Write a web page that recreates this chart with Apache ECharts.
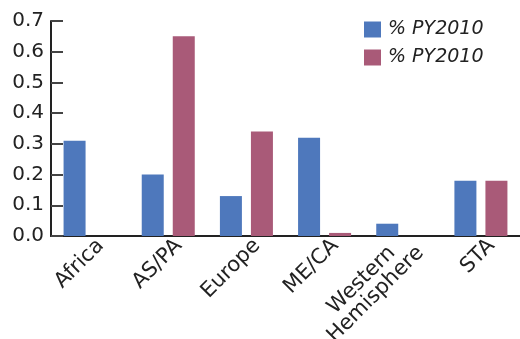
<!DOCTYPE html>
<html><head><meta charset="utf-8">
<script src="https://cdn.jsdelivr.net/npm/echarts@6/dist/echarts.min.js"></script>
<style>html,body{margin:0;padding:0;background:#fff}#c{width:520px;height:339px}</style>
</head><body><div id="c"></div>
<script>
const categories = ["Africa", "AS/PA", "Europe", "ME/CA", "Western\nHemisphere", "STA"];
const seriesA = [0.31, 0.20, 0.13, 0.32, 0.04, 0.18];
const seriesB = [0.00, 0.65, 0.34, 0.01, 0.00, 0.18];
const nameA = "% PY2010";
const nameB = "% PY2010 ";
const yTicks = [0, 0.7, 0.1];

const chart = echarts.init(document.getElementById('c'));
const font = "DejaVu Sans";
chart.setOption({
  animation: false,
  grid: {left: 51, right: 0, top: 21, bottom: 103, containLabel: false, outerBoundsMode: 'none'},
  legend: {
    orient: 'vertical', left: 364, top: 20, itemWidth: 17, itemHeight: 16, itemGap: 9, padding: 0,
    icon: 'rect',
    data: [nameA, nameB],
    textStyle: {fontFamily: font, fontSize: 19, fontStyle: 'italic', color: '#222', padding: [0,0,0,2]}
  },
  xAxis: {
    type: 'category', data: categories,
    axisLine: {lineStyle: {color: '#222', width: 2}},
    axisTick: {inside: true, length: 5, lineStyle: {color: '#222', width: 1.5}},
    axisLabel: {
      rotate: 45, fontFamily: font, fontSize: 21, color: '#222', margin: -4, interval: 0, lineHeight: 20, align: 'right',
      padding: [30, 0, 0, 0],
      formatter: v => v.indexOf('\n') >= 0 ? '{w|' + v.split('\n')[0] + '}\n{h|' + v.split('\n')[1] + '}' : v,
      rich: {
        w: {fontFamily: font, fontSize: 21, color: '#222', lineHeight: 20, padding: [0, 20, 0, 0]},
        h: {fontFamily: font, fontSize: 21, color: '#222', lineHeight: 20}
      }
    }
  },
  yAxis: {
    type: 'value', min: yTicks[0], max: yTicks[1], interval: yTicks[2],
    splitLine: {show: false},
    axisLine: {show: true, lineStyle: {color: '#222', width: 2}},
    axisTick: {show: true, inside: true, length: 12, lineStyle: {color: '#444', width: 2}},
    axisLabel: {fontFamily: font, fontSize: 20, color: '#222', margin: 7, formatter: v => v.toFixed(1)}
  },
  series: [
    {name: nameA, type: 'bar', data: seriesA, barWidth: 22, barGap: '41%', itemStyle: {color: '#4e78bc'}},
    {name: nameB, type: 'bar', data: seriesB, barWidth: 22, itemStyle: {color: '#a95a78'}}
  ]
});
</script></body></html>
